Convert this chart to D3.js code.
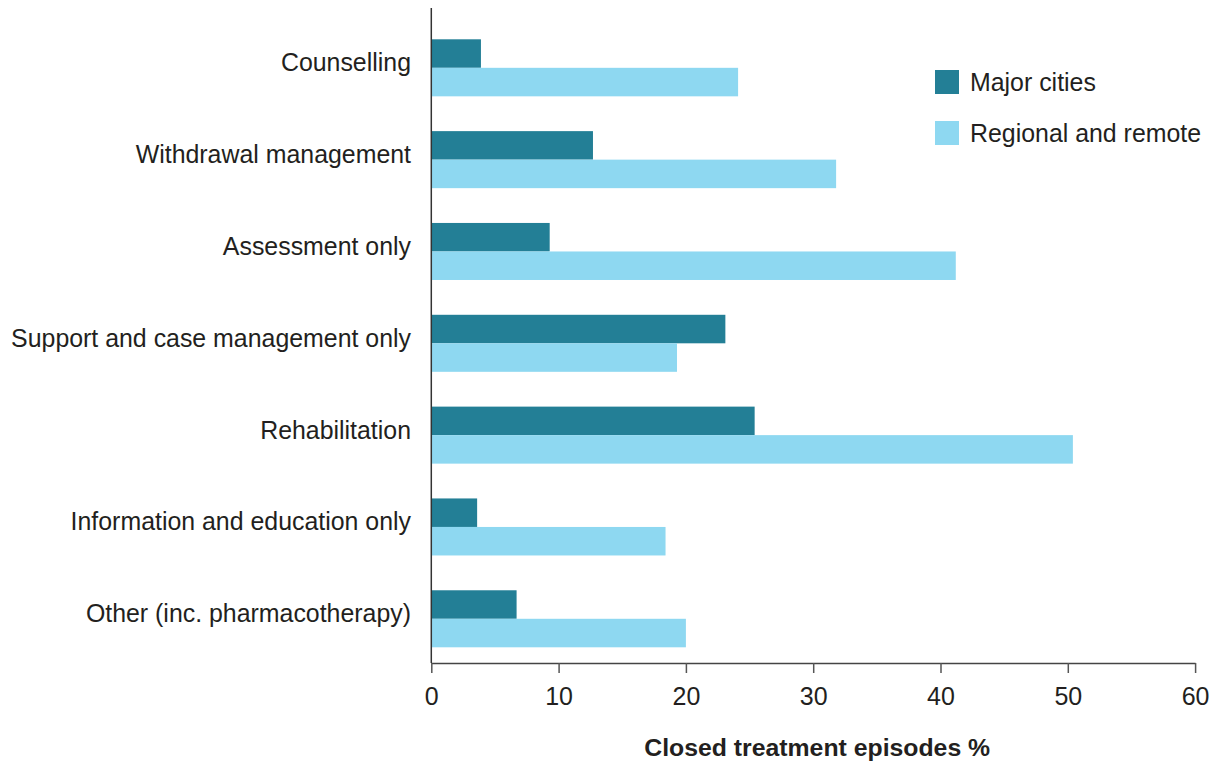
<!DOCTYPE html>
<html>
<head>
<meta charset="utf-8">
<script src="https://cdn.jsdelivr.net/npm/d3@7"></script>
<style>
  html, body { margin: 0; padding: 0; background: #fff; }
  text { font-family: "Liberation Sans", Arial, sans-serif; fill: #231f20; }
</style>
</head>
<body>
<svg id="chart" width="1220" height="763"></svg>
<script>
const categories = [
  "Counselling",
  "Withdrawal management",
  "Assessment only",
  "Support and case management only",
  "Rehabilitation",
  "Information and education only",
  "Other (inc. pharmacotherapy)"
];
const seriesNames = ["Major cities", "Regional and remote"];
const majorCities = [3.9, 12.7, 9.3, 23.1, 25.4, 3.6, 6.7];
const regionalRemote = [24.1, 31.8, 41.2, 19.3, 50.4, 18.4, 20.0];
const xTicks = [0, 10, 20, 30, 40, 50, 60];
const xTitle = "Closed treatment episodes %";
const colors = ["#237f96", "#8ed8f1"];

const svg = d3.select("#chart");
const x = d3.scaleLinear().domain([0, 60]).range([431.3, 1195.1]);
const y = d3.scaleBand().domain(categories).range([21.9, 664.7])
  .paddingInner(0.379).paddingOuter(0.1895);
const ys = d3.scaleBand().domain(seriesNames).range([0, y.bandwidth()]);
const color = d3.scaleOrdinal().domain(seriesNames).range(colors);

const rows = categories.map((c, i) => ({
  cat: c,
  vals: [
    { s: seriesNames[0], v: majorCities[i] },
    { s: seriesNames[1], v: regionalRemote[i] }
  ]
}));

// bars
const g = svg.append("g");
g.selectAll("g.cat").data(rows).join("g")
  .attr("class", "cat")
  .attr("transform", d => `translate(0,${y(d.cat)})`)
  .selectAll("rect").data(d => d.vals).join("rect")
  .attr("x", x(0))
  .attr("y", d => ys(d.s))
  .attr("width", d => x(d.v) - x(0))
  .attr("height", ys.bandwidth())
  .attr("fill", d => color(d.s));

// category labels
svg.append("g").selectAll("text").data(categories).join("text")
  .attr("x", 411)
  .attr("y", d => y(d) + y.bandwidth() / 2 + 3.5)
  .attr("text-anchor", "end")
  .attr("font-size", "24.9px")
  .text(d => d);

// x axis
const xAxis = d3.axisBottom(x).tickValues(xTicks).tickSize(10).tickSizeOuter(0).tickPadding(14);
const ax = svg.append("g").attr("transform", "translate(0,663)").call(xAxis);
ax.select(".domain").attr("stroke", "#444").attr("stroke-width", 1.5);
ax.selectAll(".tick line").attr("stroke", "#555").attr("stroke-width", 1.5);
ax.selectAll(".tick text").attr("font-size", "25px")
  .attr("font-family", "'Liberation Sans', Arial, sans-serif").attr("fill", "#231f20");

// y axis line
svg.append("line")
  .attr("x1", x(0)).attr("x2", x(0))
  .attr("y1", 8).attr("y2", 663)
  .attr("stroke", "#333").attr("stroke-width", 1.5);

// axis title
svg.append("text")
  .attr("x", (x(0) + x(60)) / 2 + 4)
  .attr("y", 756)
  .attr("text-anchor", "middle")
  .attr("font-size", "24.8px")
  .attr("font-weight", "bold")
  .text(xTitle);

// legend
const leg = svg.append("g").selectAll("g").data(seriesNames).join("g")
  .attr("transform", (d, i) => `translate(935,${70 + i * 51})`);
leg.append("rect").attr("width", 24).attr("height", 24).attr("fill", d => color(d));
leg.append("text").attr("x", 35).attr("y", 21).attr("font-size", "24.9px").text(d => d);
</script>
</body>
</html>
